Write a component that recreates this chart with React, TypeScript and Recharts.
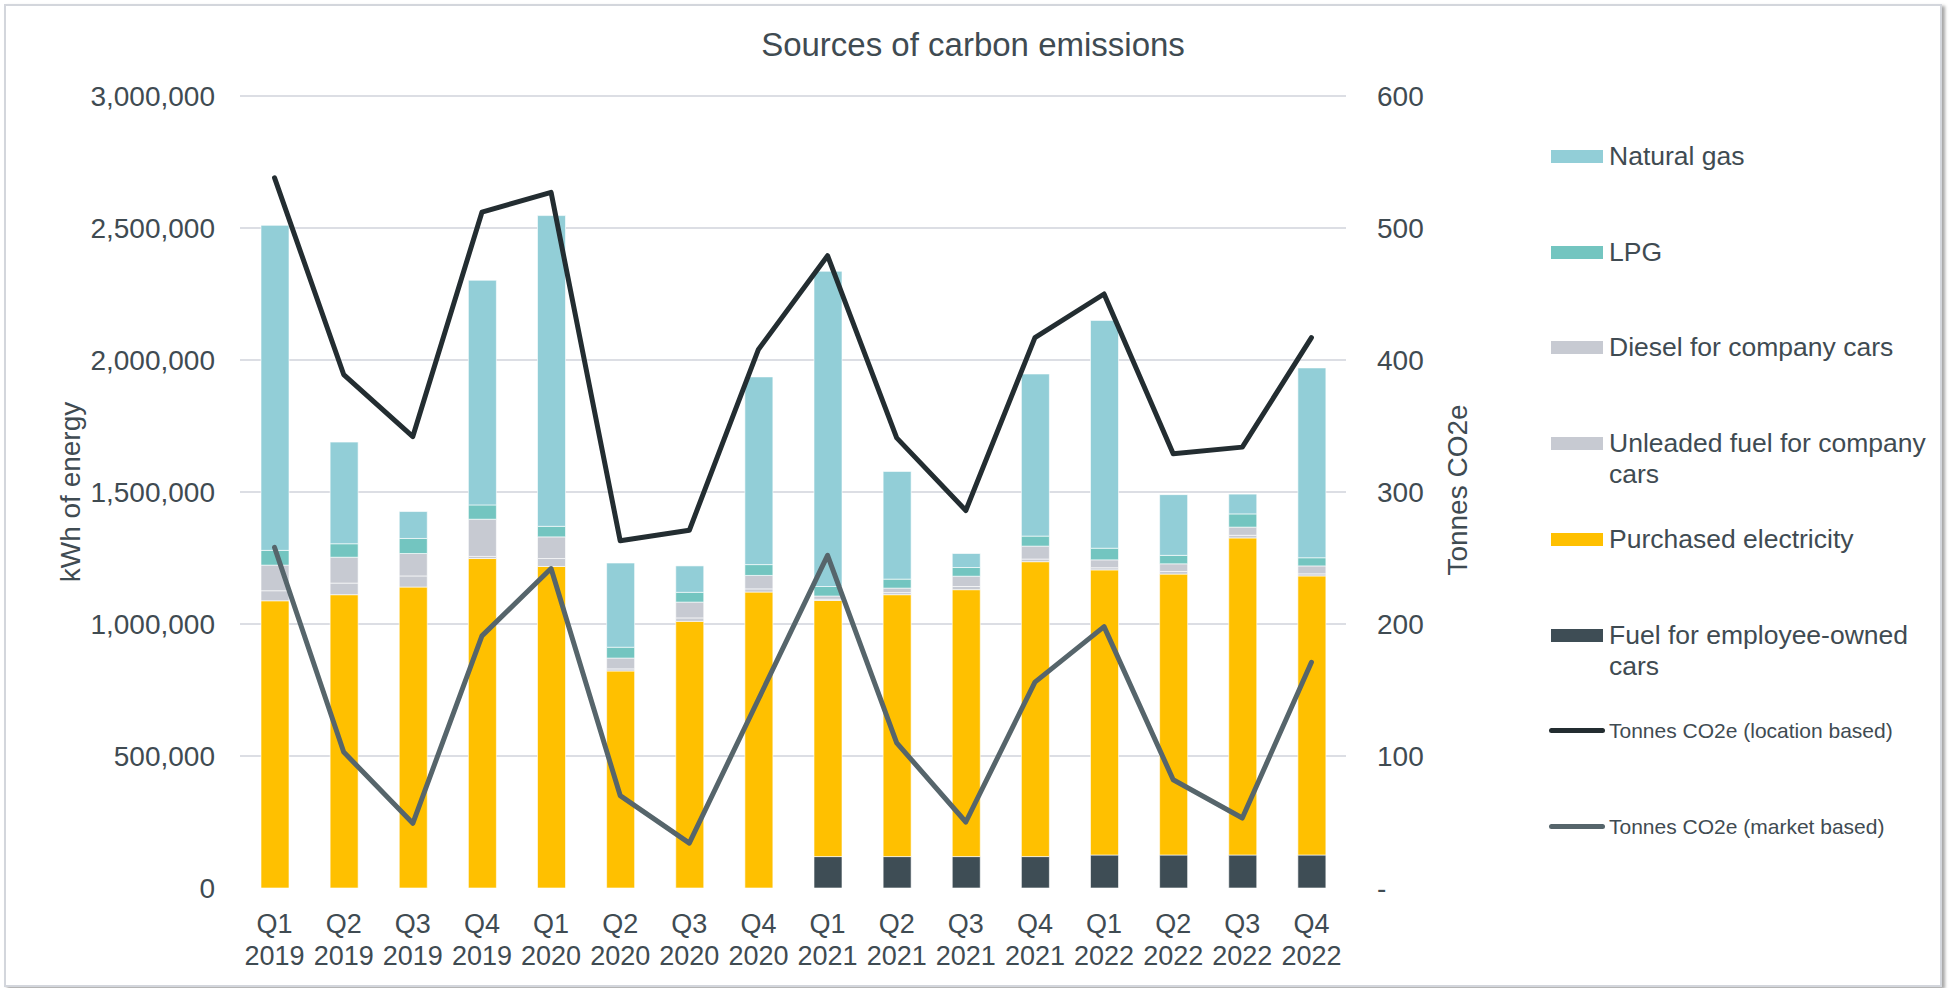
import { ComposedChart, Bar, Line, XAxis, YAxis, CartesianGrid } from 'recharts';

const quarters = [
  'Q1 2019', 'Q2 2019', 'Q3 2019', 'Q4 2019',
  'Q1 2020', 'Q2 2020', 'Q3 2020', 'Q4 2020',
  'Q1 2021', 'Q2 2021', 'Q3 2021', 'Q4 2021',
  'Q1 2022', 'Q2 2022', 'Q3 2022', 'Q4 2022',
];

// kWh of energy (stacked, bottom to top)
const employeeCars = [0, 0, 0, 0, 0, 0, 0, 0, 119000, 119000, 119000, 119000, 125000, 125000, 125000, 125000];
const electricity = [1088000, 1111000, 1140000, 1248000, 1218000, 822000, 1010000, 1121000, 970000, 992000, 1011000, 1117000, 1080000, 1064000, 1201000, 1057000];
const unleaded = [38000, 44000, 42000, 8000, 30000, 8000, 13000, 12000, 5000, 8000, 12000, 10000, 8000, 10000, 10000, 8000];
const diesel = [97000, 98000, 85000, 141000, 82000, 41000, 60000, 51000, 12000, 17000, 39000, 49000, 30000, 29000, 31000, 30000];
const lpg = [56000, 51000, 57000, 54000, 40000, 41000, 37000, 41000, 36000, 34000, 33000, 38000, 44000, 32000, 50000, 31000];
const naturalGas = [1231000, 385000, 102000, 851000, 1177000, 319000, 100000, 711000, 1194000, 408000, 53000, 614000, 863000, 230000, 75000, 719000];

// Tonnes CO2e
const locationBased = [538, 389, 342, 512, 527, 263, 271, 408, 479, 341, 286, 417, 450, 329, 334, 417];
const marketBased = [258, 103, 49, 191, 242, 70, 34, 143, 252, 110, 50, 156, 198, 82, 53, 171];

const leftTicks = [0, 500000, 1000000, 1500000, 2000000, 2500000, 3000000];
const rightTicks = [0, 100, 200, 300, 400, 500, 600];

const data = quarters.map((q, i) => ({
  quarter: q,
  employeeCars: employeeCars[i],
  electricity: electricity[i],
  unleaded: unleaded[i],
  diesel: diesel[i],
  lpg: lpg[i],
  naturalGas: naturalGas[i],
  location: locationBased[i],
  market: marketBased[i],
}));

const FONT = '"Liberation Sans", Arial, sans-serif';
const TEXT = '#3F4B52';
const GRID = '#D0D3DB';

const legendItems = [
  { label: ['Natural gas'], color: '#92CED7', kind: 'bar' },
  { label: ['LPG'], color: '#73C5C0', kind: 'bar' },
  { label: ['Diesel for company cars'], color: '#C7CAD2', kind: 'bar' },
  { label: ['Unleaded fuel for company', 'cars'], color: '#C7CAD2', kind: 'bar' },
  { label: ['Purchased electricity'], color: '#FFC000', kind: 'bar' },
  { label: ['Fuel for employee-owned', 'cars'], color: '#3E4D55', kind: 'bar' },
  { label: ['Tonnes CO2e (location based)'], color: '#232D31', kind: 'line' },
  { label: ['Tonnes CO2e (market based)'], color: '#56656B', kind: 'line' },
];

const QuarterTick = ({ x, y, payload }: any) => {
  const [q, yr] = String(payload.value).split(' ');
  return (
    <g transform={`translate(${x},${y})`}>
      <text textAnchor="middle" fill={TEXT} fontSize={27} fontFamily={FONT}>
        <tspan x={0} dy={45}>{q}</tspan>
        <tspan x={0} dy={32}>{yr}</tspan>
      </text>
    </g>
  );
};

// skip the line at zero, keep the rest
const gridLine = (p: any) => {
  if (p.y !== undefined && p.height !== undefined && p.y1 >= p.y + p.height - 1) {
    return <g key={p.key} />;
  }
  return <line key={p.key} x1={p.x1} y1={p.y1} x2={p.x2} y2={p.y2} stroke={GRID} strokeWidth={1.5} />;
};

export default function App() {
  return (
    <div style={{ position: 'absolute', left: 0, top: 0, width: 1954, height: 988, background: '#fff', fontFamily: FONT }}>
      <div
        style={{
          position: 'absolute', left: 4, top: 4, width: 1934, height: 979,
          border: '2px solid #D3D6DC', boxShadow: '3px 2px 3px rgba(0,0,0,0.35)',
        }}
      />
      <div style={{ position: 'absolute', left: 0, width: 1946, top: 26, textAlign: 'center', fontSize: 33, color: TEXT, lineHeight: '38px' }}>
        Sources of carbon emissions
      </div>
      <div style={{ position: 'absolute', left: 71, top: 492, transform: 'translate(-50%,-50%) rotate(-90deg)', whiteSpace: 'nowrap', fontSize: 28, color: TEXT }}>
        kWh of energy
      </div>
      <div style={{ position: 'absolute', left: 1458, top: 490, transform: 'translate(-50%,-50%) rotate(-90deg)', whiteSpace: 'nowrap', fontSize: 28, color: TEXT }}>
        Tonnes CO2e
      </div>

      <div style={{ position: 'absolute', left: 0, top: 0 }}>
        <ComposedChart width={1954} height={988} data={data} margin={{ top: 96, right: 400, bottom: 0, left: 0 }}>
          <CartesianGrid yAxisId="left" vertical={false} horizontal={gridLine} />
          <XAxis dataKey="quarter" height={100} tickLine={false} axisLine={false} interval={0} tick={<QuarterTick />} tickSize={0} tickMargin={0} />
          <YAxis
            yAxisId="left"
            width={240}
            domain={[0, 3000000]}
            ticks={leftTicks}
            tickFormatter={(v: number) => v.toLocaleString('en-US')}
            tickLine={false}
            axisLine={false}
            tickSize={0}
            tickMargin={25}
            tick={{ fill: TEXT, fontSize: 28, fontFamily: FONT }}
          />
          <YAxis
            yAxisId="right"
            orientation="right"
            width={208}
            domain={[0, 600]}
            ticks={rightTicks}
            tickFormatter={(v: number) => (v === 0 ? '-' : String(v))}
            tickLine={false}
            axisLine={false}
            tickSize={0}
            tickMargin={31}
            tick={{ fill: TEXT, fontSize: 28, fontFamily: FONT, textAnchor: 'start' }}
          />
          <Bar yAxisId="left" dataKey="employeeCars" stackId="kwh" fill="#3E4D55" barSize={28} stroke="#fff" strokeWidth={0.6} isAnimationActive={false} />
          <Bar yAxisId="left" dataKey="electricity" stackId="kwh" fill="#FFC000" barSize={28} stroke="#fff" strokeWidth={0.6} isAnimationActive={false} />
          <Bar yAxisId="left" dataKey="unleaded" stackId="kwh" fill="#C7CAD2" barSize={28} stroke="#fff" strokeWidth={0.6} isAnimationActive={false} />
          <Bar yAxisId="left" dataKey="diesel" stackId="kwh" fill="#C7CAD2" barSize={28} stroke="#fff" strokeWidth={0.6} isAnimationActive={false} />
          <Bar yAxisId="left" dataKey="lpg" stackId="kwh" fill="#73C5C0" barSize={28} stroke="#fff" strokeWidth={0.6} isAnimationActive={false} />
          <Bar yAxisId="left" dataKey="naturalGas" stackId="kwh" fill="#92CED7" barSize={28} stroke="#fff" strokeWidth={0.6} isAnimationActive={false} />
          <Line yAxisId="right" type="linear" dataKey="location" stroke="#232D31" strokeWidth={5} dot={false} strokeLinejoin="round" strokeLinecap="round" isAnimationActive={false} />
          <Line yAxisId="right" type="linear" dataKey="market" stroke="#56656B" strokeWidth={5} dot={false} strokeLinejoin="round" strokeLinecap="round" isAnimationActive={false} />
        </ComposedChart>
      </div>

      {/* legend */}
      <div style={{ position: 'absolute', left: 1549, top: 141 }}>
        {legendItems.map((item, i) => (
          <div key={i} style={{ position: 'absolute', top: i * 95.7, left: 0, display: 'flex', alignItems: 'flex-start', whiteSpace: 'nowrap' }}>
            {item.kind === 'bar' ? (
              <div style={{ width: 52, height: 13, background: item.color, marginTop: 9, marginLeft: 2 }} />
            ) : (
              <div style={{ width: 56, height: 5, borderRadius: 3, background: item.color, marginTop: 13 }} />
            )}
            <div style={{ marginLeft: item.kind === 'bar' ? 6 : 4, fontSize: item.kind === 'bar' ? 26.5 : 21, lineHeight: '31px', color: TEXT }}>
              {item.label.map((l, j) => (
                <div key={j}>{l}</div>
              ))}
            </div>
          </div>
        ))}
      </div>
    </div>
  );
}
